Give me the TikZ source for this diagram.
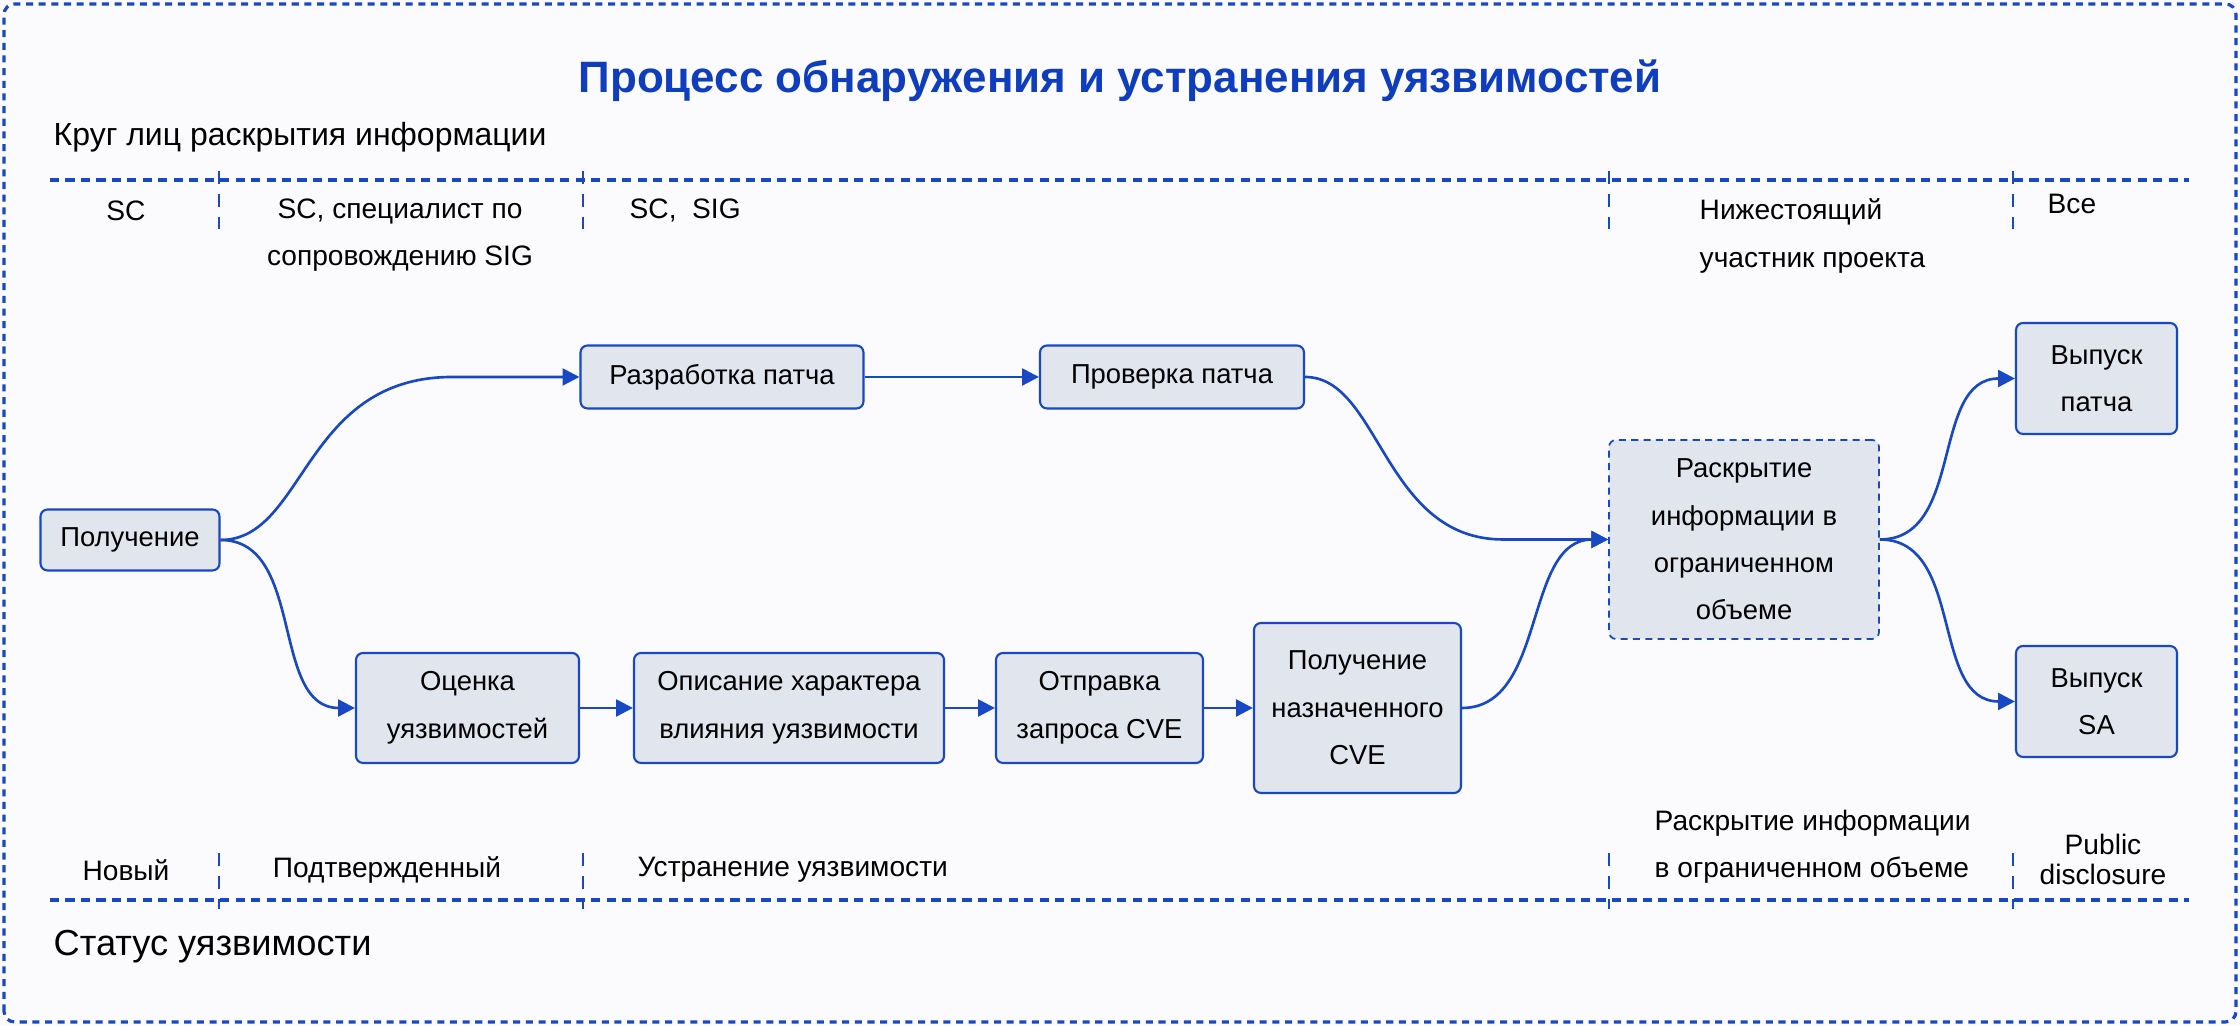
\documentclass[tikz,border=0pt]{standalone}
\usepackage{fontspec}
\setmainfont{Liberation Sans}
\usetikzlibrary{arrows.meta,calc,positioning}

\definecolor{lineblue}{RGB}{24,72,196}
\definecolor{titleblue}{RGB}{14,62,190}
\definecolor{boxfill}{RGB}{224,229,238}
\definecolor{pagebg}{RGB}{251,251,253}

\begin{document}
\begin{tikzpicture}[
    >={Triangle[length=4.8pt,width=4.8pt]},
    stage/.style={draw=lineblue,line width=0.6pt,fill=boxfill,rounded corners=2pt,
        align=center,inner sep=2pt,font=\fontsize{7.8}{13.5}\selectfont},
    flow/.style={draw=lineblue,line width=0.75pt,->},
    hline/.style={draw=lineblue,line width=0.9pt,dash pattern=on 2.6pt off 1.8pt},
    vline/.style={draw=lineblue,line width=0.7pt,dash pattern=on 3.6pt off 3pt},
    lbl/.style={font=\fontsize{8}{13.5}\selectfont,inner sep=0pt}
]

% Page and frame
\useasboundingbox (0,0) rectangle (22.40,10.26);
\fill[pagebg] (0,0) rectangle (22.40,10.26);
\draw[lineblue,line width=0.9pt,dash pattern=on 2pt off 1.6pt,rounded corners=3pt]
    (0.04,0.04) rectangle (22.36,10.22);

% Title
\node[font=\fontsize{12.5}{15}\selectfont\bfseries,text=titleblue] (title)
    at (11.20,9.45) {Процесс обнаружения и устранения уязвимостей};

% ===== Top band: who knows =====
\node[anchor=west,inner sep=0pt,font=\fontsize{9.1}{11}\selectfont] (circle) at (0.53,8.89)
    {Круг лиц раскрытия информации};

\draw[hline] (0.50,8.46) -- (21.89,8.46);
\foreach \x in {2.19,5.83,16.09,20.13}
    \draw[vline] (\x,8.55) -- (\x,7.97);

\node[lbl] (who1) at (1.26,8.15) {SC};
\node[lbl,align=center] (who2) at (4.00,7.91) {SC, специалист по\\сопровождению SIG};
\node[lbl,anchor=west] (who3) at (6.29,8.15) {SC,\ \ SIG};
\node[lbl,anchor=west,align=left] (who4) at (16.99,7.90) {Нижестоящий\\участник проекта};
\node[lbl,anchor=west] (who5) at (20.47,8.22) {Все};

% ===== Process boxes =====
\node[stage,minimum width=1.79cm,minimum height=0.61cm] (recv) at (1.30,4.86) {Получение};
\node[stage,minimum width=2.83cm,minimum height=0.63cm] (patch) at (7.22,6.49) {Разработка патча};
\node[stage,minimum width=2.64cm,minimum height=0.63cm] (check) at (11.72,6.49) {Проверка патча};

\node[stage,minimum width=2.23cm,minimum height=1.10cm] (assess) at (4.675,3.18) {Оценка\\уязвимостей};
\node[stage,minimum width=3.10cm,minimum height=1.10cm] (impact) at (7.89,3.18) {Описание характера\\влияния уязвимости};
\node[stage,minimum width=2.07cm,minimum height=1.10cm] (request) at (10.995,3.18) {Отправка\\запроса CVE};
\node[stage,minimum width=2.07cm,minimum height=1.70cm] (cve) at (13.575,3.18) {Получение\\назначенного\\CVE};

\node[stage,dash pattern=on 2pt off 1.5pt,line width=0.5pt,
    minimum width=2.70cm,minimum height=1.99cm] (limited) at (17.44,4.865)
    {Раскрытие\\информации в\\ограниченном\\объеме};

\node[stage,minimum width=1.61cm,minimum height=1.11cm] (release) at (20.965,6.475) {Выпуск\\патча};
\node[stage,minimum width=1.61cm,minimum height=1.11cm] (advisory) at (20.965,3.245) {Выпуск\\SA};

% ===== Connectors =====
\draw[flow] (recv.east) .. controls +(0.85,0) and +(-1.5,0) .. ($(patch.west)+(-1.27,0)$) -- (patch.west);
\draw[flow] (recv.east) .. controls +(0.85,0) and +(-0.85,0) .. (assess.west);
\draw[flow] (patch.east) -- (check.west);
\draw[flow] (assess.east) -- (impact.west);
\draw[flow] (impact.east) -- (request.west);
\draw[flow] (request.east) -- (cve.west);
\draw[flow] (check.east) .. controls +(0.75,0) and +(-1.2,0) .. ($(limited.west)+(-1.05,0)$) -- (limited.west);
\draw[flow] (cve.east) .. controls +(0.85,0) and +(-0.85,0) .. (limited.west);
\draw[flow] (limited.east) .. controls +(0.85,0) and +(-0.85,0) .. (release.west);
\draw[flow] (limited.east) .. controls +(0.85,0) and +(-0.85,0) .. (advisory.west);

% ===== Bottom band: status =====
\draw[hline] (0.50,1.26) -- (21.89,1.26);
\foreach \x in {2.19,5.83,16.09,20.13}
    \draw[vline] (\x,1.73) -- (\x,1.17);

\node[lbl] (st1) at (1.26,1.56) {Новый};
\node[lbl] (st2) at (3.87,1.56) {Подтвержденный};
\node[lbl,anchor=west] (st3) at (6.37,1.56) {Устранение уязвимости};
\node[lbl,anchor=west,align=left] (st4) at (16.54,1.79) {Раскрытие информации\\в ограниченном объеме};
\node[lbl,align=center,font=\fontsize{8}{8.6}\selectfont] (st5) at (21.03,1.665) {Public\\disclosure};

\node[anchor=west,inner sep=0pt,font=\fontsize{10.3}{12}\selectfont] (status) at (0.53,0.79) {Статус уязвимости};

\end{tikzpicture}
\end{document}
